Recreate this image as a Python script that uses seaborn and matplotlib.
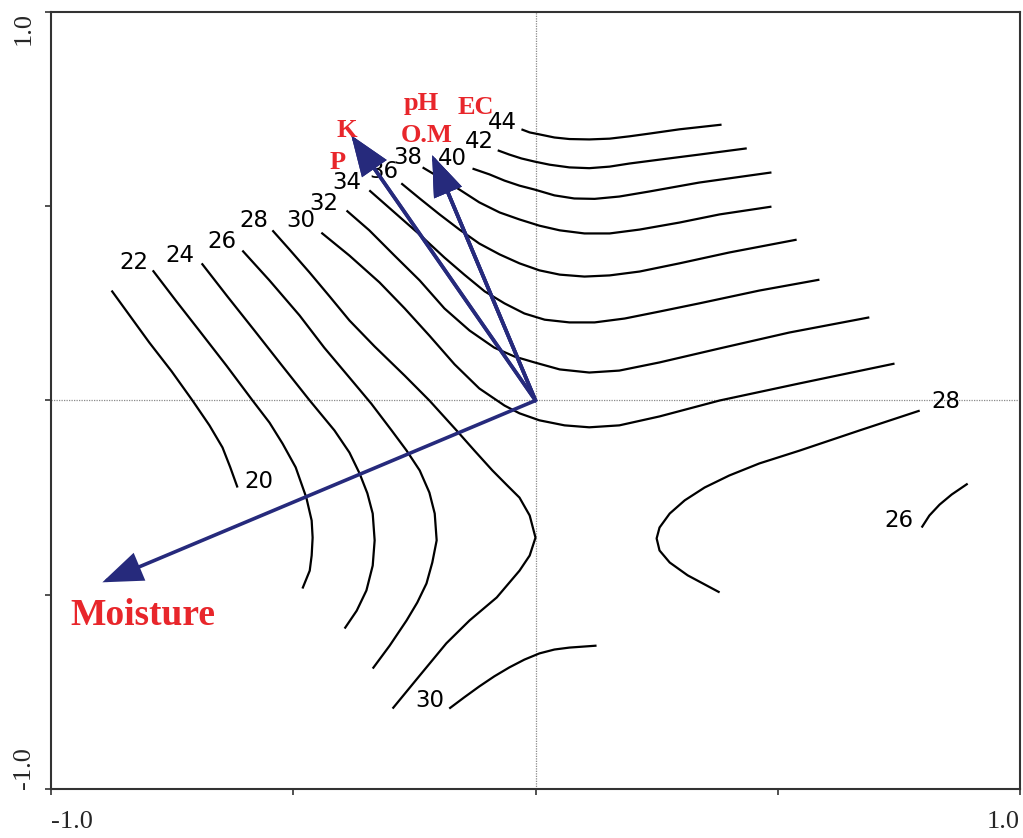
import numpy as np
import pandas as pd
import matplotlib
matplotlib.use("Agg")
import matplotlib.pyplot as plt
import seaborn as sns

# ---- isolines of the fitted response surface (x, y in ordination units) ----
iso20_x = [-0.875, -0.836, -0.797, -0.751, -0.708, -0.673, -0.646, -0.630, -0.615]
iso20_y = [0.283, 0.216, 0.149, 0.075, 0.000, -0.064, -0.121, -0.172, -0.224]

iso22_x = [-0.790, -0.741, -0.694, -0.638, -0.584, -0.549, -0.522, -0.495, -0.473,
           -0.462, -0.460, -0.462, -0.466, -0.481]
iso22_y = [0.335, 0.255, 0.180, 0.090, 0.000, -0.057, -0.111, -0.172, -0.250,
           -0.309, -0.353, -0.399, -0.438, -0.484]

iso24_x = [-0.689, -0.636, -0.580, -0.522, -0.466, -0.415, -0.384, -0.363, -0.347,
           -0.336, -0.332, -0.336, -0.349, -0.369, -0.394]
iso24_y = [0.353, 0.268, 0.180, 0.088, 0.000, -0.077, -0.134, -0.188, -0.239,
           -0.291, -0.360, -0.425, -0.489, -0.541, -0.587]

iso26_x = [-0.605, -0.549, -0.487, -0.436, -0.384, -0.339, -0.297, -0.266, -0.239,
           -0.219, -0.208, -0.204, -0.213, -0.225, -0.244, -0.266, -0.301, -0.336]
iso26_y = [0.386, 0.309, 0.219, 0.136, 0.059, -0.008, -0.077, -0.129, -0.180,
           -0.237, -0.291, -0.360, -0.417, -0.471, -0.520, -0.566, -0.631, -0.690]

iso28_x = [-0.543, -0.508, -0.466, -0.425, -0.384, -0.332, -0.270, -0.219, -0.163,
           -0.126, -0.089, -0.058, -0.033, -0.012, 0.000, -0.012, -0.033, -0.080,
           -0.136, -0.184, -0.239, -0.295]
iso28_y = [0.438, 0.389, 0.329, 0.268, 0.206, 0.139, 0.064, 0.000, -0.077,
           -0.129, -0.180, -0.219, -0.250, -0.296, -0.353, -0.399, -0.438, -0.507,
           -0.566, -0.625, -0.708, -0.793]

iso30_x = [-0.442, -0.384, -0.322, -0.270, -0.219, -0.167, -0.116, -0.064, -0.033,
           0.008, 0.060, 0.111, 0.173, 0.256, 0.380, 0.545, 0.741]
iso30_y = [0.432, 0.373, 0.304, 0.237, 0.167, 0.093, 0.031, -0.013, -0.033,
           -0.051, -0.064, -0.069, -0.064, -0.041, 0.000, 0.044, 0.095]

iso32_x = [-0.390, -0.343, -0.291, -0.239, -0.188, -0.136, -0.085, -0.043, -0.002,
           0.050, 0.111, 0.173, 0.256, 0.380, 0.524, 0.689]
iso32_y = [0.489, 0.438, 0.373, 0.309, 0.237, 0.180, 0.136, 0.113, 0.098,
           0.080, 0.072, 0.077, 0.098, 0.134, 0.175, 0.214]

iso34_x = [-0.343, -0.291, -0.239, -0.188, -0.147, -0.105, -0.064, -0.023, 0.019,
           0.070, 0.122, 0.184, 0.256, 0.338, 0.462, 0.586]
iso34_y = [0.541, 0.484, 0.427, 0.368, 0.324, 0.281, 0.250, 0.224, 0.208,
           0.201, 0.201, 0.211, 0.229, 0.250, 0.283, 0.311]

iso36_x = [-0.277, -0.239, -0.198, -0.157, -0.116, -0.074, -0.033, 0.008, 0.050,
           0.101, 0.153, 0.215, 0.297, 0.400, 0.539]
iso36_y = [0.559, 0.520, 0.479, 0.440, 0.404, 0.376, 0.353, 0.335, 0.324,
           0.319, 0.322, 0.332, 0.353, 0.381, 0.414]

iso38_x = [-0.233, -0.198, -0.157, -0.116, -0.074, -0.033, 0.008, 0.050, 0.101,
           0.153, 0.215, 0.297, 0.380, 0.487]
iso38_y = [0.600, 0.574, 0.543, 0.510, 0.484, 0.466, 0.450, 0.438, 0.430,
           0.430, 0.440, 0.458, 0.479, 0.499]

iso40_x = [-0.130, -0.095, -0.064, -0.033, -0.002, 0.039, 0.080, 0.122, 0.173,
           0.235, 0.338, 0.487]
iso40_y = [0.597, 0.582, 0.566, 0.553, 0.543, 0.528, 0.520, 0.519, 0.525,
           0.538, 0.561, 0.587]

iso42_x = [-0.078, -0.054, -0.029, -0.002, 0.029, 0.070, 0.111, 0.153, 0.194,
           0.256, 0.338, 0.436]
iso42_y = [0.644, 0.633, 0.623, 0.615, 0.607, 0.600, 0.598, 0.602, 0.610,
           0.620, 0.633, 0.649]

iso44_x = [-0.029, -0.012, 0.008, 0.039, 0.070, 0.111, 0.153, 0.194, 0.235,
           0.297, 0.384]
iso44_y = [0.698, 0.690, 0.685, 0.677, 0.673, 0.672, 0.674, 0.680, 0.687,
           0.698, 0.710]

iso28b_x = [0.793, 0.669, 0.545, 0.462, 0.400, 0.349, 0.308, 0.277, 0.256, 0.250,
            0.256, 0.277, 0.314, 0.380]
iso28b_y = [-0.026, -0.077, -0.129, -0.162, -0.193, -0.224, -0.257, -0.291, -0.327,
            -0.355, -0.386, -0.417, -0.450, -0.494]

iso30b_x = [-0.178, -0.147, -0.116, -0.085, -0.054, -0.023, 0.008, 0.039, 0.070, 0.126]
iso30b_y = [-0.793, -0.764, -0.736, -0.710, -0.687, -0.667, -0.651, -0.641, -0.636, -0.631]

iso26b_x = [0.797, 0.813, 0.834, 0.859, 0.892]
iso26b_y = [-0.327, -0.296, -0.268, -0.242, -0.214]

# ---- environmental variables (biplot scores) ----
env_names = ["Moisture", "K", "P", "O.M", "pH", "EC"]
env_x = [-0.894, -0.380, -0.380, -0.213, -0.213, -0.213]
env_y = [-0.468, 0.682, 0.682, 0.631, 0.631, 0.631]

# ---- assemble isolines ----
curves = [
    (20, iso20_x, iso20_y), (22, iso22_x, iso22_y), (24, iso24_x, iso24_y),
    (26, iso26_x, iso26_y), (28, iso28_x, iso28_y), (30, iso30_x, iso30_y),
    (32, iso32_x, iso32_y), (34, iso34_x, iso34_y), (36, iso36_x, iso36_y),
    (38, iso38_x, iso38_y), (40, iso40_x, iso40_y), (42, iso42_x, iso42_y),
    (44, iso44_x, iso44_y), (28, iso28b_x, iso28b_y), (30, iso30b_x, iso30b_y),
    (26, iso26b_x, iso26b_y),
]
frames = []
for cid, (lev, xs, ys) in enumerate(curves):
    frames.append(pd.DataFrame({"curve": cid, "level": lev, "x": xs, "y": ys,
                                "order": np.arange(len(xs))}))
iso = pd.concat(frames, ignore_index=True)

# where each isoline carries its value label (curve index, label anchor)
label_spots = [
    (1, -0.828, 0.355), (2, -0.733, 0.373), (3, -0.648, 0.409), (4, -0.582, 0.463),
    (5, -0.485, 0.463), (6, -0.436, 0.507), (7, -0.390, 0.561), (8, -0.313, 0.589),
    (9, -0.263, 0.626), (10, -0.171, 0.623), (11, -0.116, 0.667), (12, -0.068, 0.716),
    (0, -0.570, -0.208), (14, -0.219, -0.772), (13, 0.848, -0.003), (15, 0.751, -0.309),
]

# where each variable name sits
env_label_pos = {
    "Moisture": (-0.811, -0.553), "K": (-0.390, 0.695), "P": (-0.409, 0.613),
    "O.M": (-0.225, 0.682), "pH": (-0.235, 0.765), "EC": (-0.124, 0.754),
}

NAVY = "#262A7C"
RED = "#E8262B"

sns.set_theme(style="ticks")
plt.rcParams["font.family"] = ["Liberation Serif", "DejaVu Serif"]

fig = plt.figure(figsize=(10.23, 8.38), dpi=100)
ax = fig.add_axes([51 / 1023, 49 / 838, 969 / 1023, 777 / 838])

# centre cross
ax.axhline(0, color="#8a8a8a", lw=0.9, ls=(0, (1, 1)), zorder=1)
ax.axvline(0, color="#8a8a8a", lw=0.9, ls=(0, (1, 1)), zorder=1)

sns.lineplot(data=iso, x="x", y="y", units="curve", estimator=None, sort=False,
             color="black", linewidth=1.6, ax=ax, legend=False, zorder=2)
for line in ax.get_lines():
    line.set_solid_joinstyle("round")
    line.set_solid_capstyle("butt")

for cid, lx, ly in label_spots:
    lev = curves[cid][0]
    ax.text(lx, ly, f"{lev}", fontsize=16.5, family=["DejaVu Sans"],
            ha="center", va="center", color="black", zorder=3)

# biplot arrows
for name, ex, ey in zip(env_names, env_x, env_y):
    ax.annotate("", xy=(ex, ey), xytext=(0, 0),
                arrowprops=dict(arrowstyle="-|>,head_length=1.6,head_width=0.6",
                                mutation_scale=15, color=NAVY, lw=2.6,
                                shrinkA=0, shrinkB=0, joinstyle="miter"),
                zorder=4)
    px, py = env_label_pos[name]
    ax.text(px, py, name, color=RED, fontweight="bold",
            fontsize=27 if name == "Moisture" else 19,
            family=["Liberation Serif", "DejaVu Serif"],
            ha="center", va="center", zorder=5)

ax.set_xlim(-1, 1)
ax.set_ylim(-1, 1)
ax.set_xlabel("")
ax.set_ylabel("")

ticks = [-1.0, -0.5, 0.0, 0.5, 1.0]
ax.set_xticks(ticks)
ax.set_yticks(ticks)
ax.set_xticklabels(["-1.0", "", "", "", "1.0"], fontsize=19)
ax.set_yticklabels(["-1.0", "", "", "", "1.0"], fontsize=19, rotation=90)
xl = ax.get_xticklabels()
xl[0].set_horizontalalignment("left")
xl[-1].set_horizontalalignment("right")
yl = ax.get_yticklabels()
yl[0].set_verticalalignment("bottom")
yl[-1].set_verticalalignment("top")
ax.tick_params(axis="x", direction="out", length=4.5, width=1.2, color="#333333", pad=11)
ax.tick_params(axis="y", direction="out", length=4.5, width=1.2, color="#333333", pad=7)

for sp in ax.spines.values():
    sp.set_visible(True)
    sp.set_color("#333333")
    sp.set_linewidth(1.5)

fig.savefig("out.png", dpi=100)
